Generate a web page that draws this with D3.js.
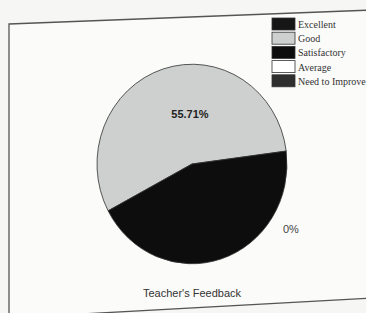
<!DOCTYPE html>
<html><head><meta charset="utf-8">
<script src="https://cdn.jsdelivr.net/npm/d3@7"></script>
<style>html,body{margin:0;padding:0;background:#f6f6f4;}svg{display:block;}</style>
</head><body>
<script>
const categories = ["Excellent", "Good", "Satisfactory", "Average", "Need to Improve"];
const values = [0, 55.71, 44.29, 0, 0];
const colors = ["#161616", "#cdd0cf", "#0d0d0d", "#ffffff", "#2e2e2e"];
const title = "Teacher's Feedback";

const W = 366, H = 313;
const svg = d3.select("body").append("svg").attr("width", W).attr("height", H);

// frame (photographed in slight perspective)
svg.append("path").attr("d", "M9,24 L372,10 L372,298 L9,318 Z")
  .attr("fill", "#fbfbfa").attr("stroke", "#555").attr("stroke-width", 1.3);

const cx = 192, cy = 164, r = 95;
const start = 242 * Math.PI / 180;
const pie = d3.pie().sort(null).value(d => d.v).startAngle(start).endAngle(start + 2 * Math.PI);
const data = pie(categories.map((c, i) => ({c, v: values[i], col: colors[i]})));
const arc = d3.arc().innerRadius(0).outerRadius(r);
const g = svg.append("g").attr("transform", `translate(${cx},${cy}) scale(1,1.05)`);
g.selectAll("path").data(data.filter(d => d.data.v > 0)).join("path")
  .attr("d", arc).attr("fill", d => d.data.col).attr("stroke", "#333").attr("stroke-width", 0.8);

// labels
const lab = d3.arc().innerRadius(r * 0.52).outerRadius(r * 0.52);
const good = data[1];
const gc = lab.centroid(good);
g.append("text").attr("x", gc[0] + 13).attr("y", gc[1] + 3)
  .attr("text-anchor", "middle").attr("font-family", "Liberation Sans, Arial, sans-serif")
  .attr("font-size", 11).attr("font-weight", "bold").attr("fill", "#222")
  .text(d3.format(".2f")(good.data.v) + "%");
const sat = data[2];
const sc = lab.centroid(sat);
g.append("text").attr("x", sc[0]).attr("y", sc[1])
  .attr("text-anchor", "middle").attr("font-family", "Liberation Sans, Arial, sans-serif")
  .attr("font-size", 11).attr("fill", "#0d0d0d")
  .text(d3.format(".2f")(sat.data.v) + "%");
svg.append("text").attr("x", cx + 91).attr("y", cy + 69).attr("text-anchor", "start")
  .attr("font-family", "Liberation Sans, Arial, sans-serif").attr("font-size", 11).attr("fill", "#444")
  .text(values[0] + "%");

// legend
const y0 = 18, step = 14.2;
const lg = svg.append("g");
categories.forEach((c, i) => {
  lg.append("rect").attr("x", 272).attr("y", y0 + i * step).attr("width", 23).attr("height", 12)
    .attr("fill", colors[i]).attr("stroke", "#333").attr("stroke-width", 0.8);
  lg.append("text").attr("x", 298).attr("y", y0 + i * step + 10)
    .attr("font-family", "Liberation Serif, Times New Roman, serif").attr("font-size", 10)
    .attr("fill", "#333").text(c);
});

svg.append("text").attr("x", 192).attr("y", 297).attr("text-anchor", "middle")
  .attr("font-family", "Liberation Sans, Arial, sans-serif").attr("font-size", 11).attr("fill", "#333")
  .text(title);
</script>
</body></html>
